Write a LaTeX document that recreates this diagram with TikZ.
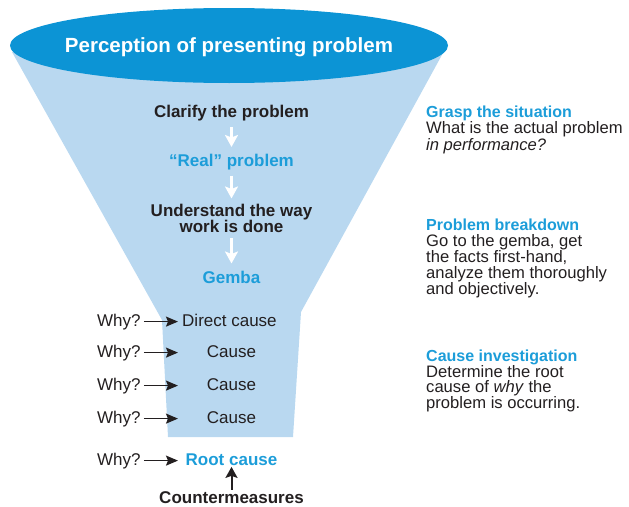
\documentclass[tikz,border=0pt]{standalone}
\usepackage{fontspec}
\setmainfont{Liberation Sans}
\usetikzlibrary{arrows.meta}
\definecolor{funnelblue}{RGB}{185,216,240}
\definecolor{ellblue}{RGB}{12,148,213}
\definecolor{txtblue}{RGB}{28,157,217}
\definecolor{dark}{RGB}{35,31,32}
\tikzset{
  lbl/.style={inner sep=0pt, text=dark},
  titletxt/.style={lbl, text=white, font=\fontsize{20.5}{22}\bfseries\selectfont},
  cbold/.style={lbl, font=\fontsize{17}{19}\bfseries\selectfont},
  cblue/.style={cbold, text=txtblue},
  creg/.style={lbl, font=\fontsize{17}{19}\selectfont},
  rhead/.style={lbl, anchor=base west, text=txtblue, font=\fontsize{16}{18}\bfseries\selectfont},
  rtxt/.style={lbl, anchor=base west, font=\fontsize{16.6}{18}\selectfont},
  warrow/.style={draw=white, line width=2.6pt, -{Stealth[length=12pt,width=13pt,inset=2.5pt]}},
  barrow/.style={draw=dark, line width=1.5pt, -{Stealth[length=12pt,width=10pt,inset=2pt]}},
  uarrow/.style={draw=dark, line width=2pt, -{Stealth[length=11pt,width=12pt,inset=2pt]}},
}
\begin{document}
\begin{tikzpicture}[x=1pt,y=-1pt]
\useasboundingbox (0,0) rectangle (629,506);
% funnel
\fill[funnelblue] (12,52) -- (162,320) -- (168,437) -- (293,437) -- (301,312) -- (443,53) -- cycle;
\fill[ellblue] (229,45.5) ellipse [x radius=219pt, y radius=37.5pt];
\node[titletxt, anchor=base] (title) at (229,52.7) {Perception of presenting problem};
% central steps
\node[cbold, anchor=base] (clarify) at (231.5,117) {Clarify the problem};
\node[cblue, anchor=base] (real) at (231.5,166) {“Real” problem};
\node[cbold, anchor=base] (under1) at (231.5,216) {Understand the way};
\node[cbold, anchor=base] (under2) at (231.5,232) {work is done};
\node[cblue, anchor=base] (gemba) at (231.5,283) {Gemba};
\draw[warrow, shorten <=6.5pt, shorten >=6.5pt] (clarify.south) -- (real.north);
\draw[warrow, shorten <=6pt, shorten >=5pt] (real.south) -- (under1.north);
\draw[warrow, shorten <=5.5pt, shorten >=7pt] (under2.south) -- (gemba.north);
% why rows
\coordinate (tipx) at (178,0);
\node[creg, anchor=base west] (w1) at (97,326) {Why?};
\node[creg, anchor=base west] (w2) at (97,357) {Why?};
\node[creg, anchor=base west] (w3) at (97,390) {Why?};
\node[creg, anchor=base west] (w4) at (97,423) {Why?};
\node[creg, anchor=base west] (w5) at (97,465) {Why?};
\node[creg, anchor=base west] (dc) at (182,326) {Direct cause};
\node[creg, anchor=base] (c2) at (231.5,357) {Cause};
\node[creg, anchor=base] (c3) at (231.5,390) {Cause};
\node[creg, anchor=base] (c4) at (231.5,423) {Cause};
\node[cblue, anchor=base] (root) at (231.5,465) {Root cause};
\node[cbold, anchor=base] (counter) at (231.5,503) {Countermeasures};
\draw[barrow, shorten <=3pt] (w1.east) -- (w1.east -| tipx);
\draw[barrow, shorten <=3pt] (w2.east) -- (w2.east -| tipx);
\draw[barrow, shorten <=3pt] (w3.east) -- (w3.east -| tipx);
\draw[barrow, shorten <=3pt] (w4.east) -- (w4.east -| tipx);
\draw[barrow, shorten <=3pt] (w5.east) -- (w5.east -| tipx);
\draw[uarrow, shorten <=1pt, shorten >=1.5pt] (counter.north) -- (root.south);
% right column
\node[rhead] (g1) at (426,117) {Grasp the situation};
\node[rtxt] (g2) at (426,133.5) {What is the actual problem};
\node[rtxt] (g3) at (426,150) {\itshape in performance?};
\node[rhead] (p1) at (426,230) {Problem breakdown};
\node[rtxt] (p2) at (426,246) {Go to the gemba, get};
\node[rtxt] (p3) at (426,262) {the facts first-hand,};
\node[rtxt] (p4) at (426,278) {analyze them thoroughly};
\node[rtxt] (p5) at (426,294) {and objectively.};
\node[rhead] (ci1) at (426,361.5) {Cause investigation};
\node[rtxt] (ci2) at (426,377) {Determine the root};
\node[rtxt] (ci3) at (426,392.5) {cause of \textit{why} the};
\node[rtxt] (ci4) at (426,408) {problem is occurring.};
\end{tikzpicture}
\end{document}
